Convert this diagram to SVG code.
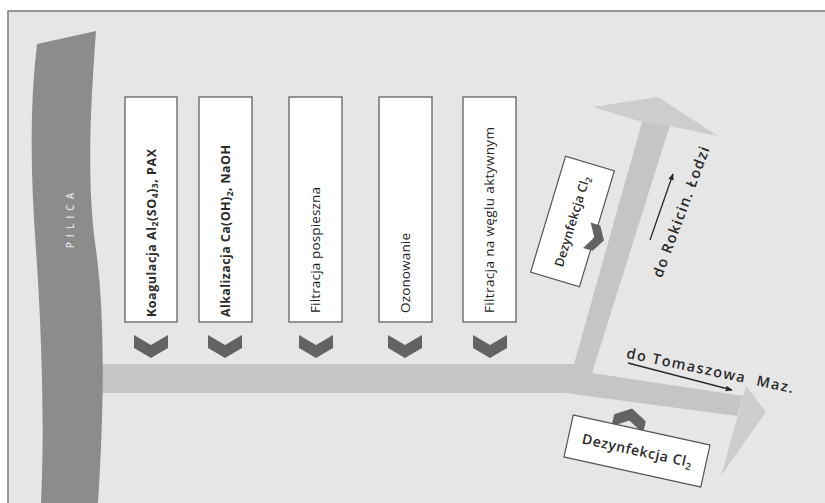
<svg xmlns="http://www.w3.org/2000/svg" width="825" height="503" viewBox="0 0 825 503">
<defs>
<style>
.box{fill:#ffffff;stroke:#555555;stroke-width:1.2}
.chev{fill:#636363}
.pipe{fill:#c5c5c5}
.head{fill:#cdcdcd}
.bt{font-family:"Open Sans","Liberation Sans",sans-serif;font-size:12.5px;font-weight:700;fill:#2a2a2a}
.rt{font-family:"Open Sans","Liberation Sans",sans-serif;font-size:13.5px;font-weight:500;fill:#222222}
.dz{font-family:"Open Sans","Liberation Sans",sans-serif;font-weight:600;fill:#2a2a2a;text-anchor:middle}
.lbl{font-family:"Open Sans","Liberation Sans",sans-serif;font-size:14.5px;font-weight:600;fill:#2a2a2a;text-anchor:middle}
.thin{stroke:#2a2a2a;stroke-width:1.3;fill:none}
</style>
<marker id="ah" viewBox="0 0 10 10" refX="9" refY="5" markerWidth="7" markerHeight="7" orient="auto" markerUnits="userSpaceOnUse">
<path d="M0,1 L10,5 L0,9 Z" fill="#2a2a2a"/>
</marker>
<path id="chevD" d="M-17,-12 L0,-2 L17,-12 L17,1 L0,11 L-17,1 Z"/>
</defs>

<rect x="8" y="11" width="817" height="492" fill="#e6e6e6"/>
<path d="M8,503 L8,11 L825,11" fill="none" stroke="#7a7a7a" stroke-width="1.5"/>

<g id="connectors">
<polygon class="pipe" points="95,364 574,364 642,122 670,125 592,373 743,396 737,416 565,393 95,393"/>
<polygon class="head" points="593,107 658,97 718,136 669,126 642,122"/>
<polygon class="head" points="746,386 766,412 721,476 737.7,416 743.2,396"/>
<use href="#chevD" class="chev" x="151" y="347"/>
<use href="#chevD" class="chev" x="225" y="347"/>
<use href="#chevD" class="chev" x="316" y="347"/>
<use href="#chevD" class="chev" x="405" y="347"/>
<use href="#chevD" class="chev" x="490" y="347"/>
<line class="thin" x1="650" y1="240" x2="673" y2="174" marker-end="url(#ah)"/>
<line class="thin" x1="628" y1="363" x2="732" y2="390" marker-end="url(#ah)"/>
</g>

<g id="river">
<path d="M37,44 L96,31 C91,100 86,180 96,250 C103,300 106,380 98,503 L41,503 C45,420 41,320 36,250 C31,180 29,110 37,44 Z" fill="#8c8c8c"/>
<text transform="translate(70,218) rotate(-90)" y="3.5" text-anchor="middle" font-family="'Open Sans','Liberation Sans',sans-serif" font-size="10" font-weight="600" letter-spacing="5" fill="#e2e2e2">PILICA</text>
</g>

<g id="box1">
<rect class="box" x="125" y="97" width="52" height="225"/>
<text class="bt" transform="translate(151,317) rotate(-90)" y="4.5" textLength="168" lengthAdjust="spacing">Koagulacja Al<tspan dy="2.5" font-size="8.5">2</tspan><tspan dy="-2.5">(SO</tspan><tspan dy="2.5" font-size="8.5">4</tspan><tspan dy="-2.5">)</tspan><tspan dy="2.5" font-size="8.5">3</tspan><tspan dy="-2.5">, PAX</tspan></text>
</g>
<g id="box2">
<rect class="box" x="199" y="97" width="53" height="225"/>
<text class="bt" transform="translate(225.5,317) rotate(-90)" y="4.5" textLength="172" lengthAdjust="spacing">Alkalizacja Ca(OH)<tspan dy="2.5" font-size="8.5">2</tspan><tspan dy="-2.5">, NaOH</tspan></text>
</g>
<g id="box3">
<rect class="box" x="289" y="97" width="53" height="225"/>
<text class="rt" transform="translate(315.5,313) rotate(-90)" y="4.5" textLength="126" lengthAdjust="spacing">Filtracja pospieszna</text>
</g>
<g id="box4">
<rect class="box" x="379" y="97" width="53" height="225"/>
<text class="rt" transform="translate(405.5,313) rotate(-90)" y="4.5" textLength="80" lengthAdjust="spacing">Ozonowanie</text>
</g>
<g id="box5">
<rect class="box" x="463" y="97" width="53" height="225"/>
<text class="rt" transform="translate(489.5,313) rotate(-90)" y="4.5" textLength="186" lengthAdjust="spacing">Filtracja na węglu aktywnym</text>
</g>

<g id="dez1" transform="translate(572.5,221.5) rotate(-73.2)">
<rect class="box" x="-60.5" y="-25.5" width="121" height="51"/>
<text class="dz" font-size="12.5" y="4" textLength="94" lengthAdjust="spacing">Dezynfekcja Cl<tspan dy="2.5" font-size="8.5">2</tspan></text>
<use href="#chevD" class="chev" transform="translate(-9,27) scale(0.78)"/>
</g>

<g id="dez2" transform="translate(637,451) rotate(12.4)">
<use href="#chevD" class="chev" transform="translate(-14,-30) scale(0.95,-0.95)"/>
<rect class="box" x="-70" y="-21.5" width="140" height="43"/>
<text class="dz" font-size="14" y="4.5" textLength="112" lengthAdjust="spacing">Dezynfekcja Cl<tspan dy="3" font-size="9.5">2</tspan></text>
</g>

<g id="label-rokicin">
<text class="lbl" transform="translate(681,212) rotate(-69.6)" y="5" textLength="138" lengthAdjust="spacing">do Rokicin. Łodzi</text>
</g>
<g id="label-tomaszow">
<text class="lbl" font-size="15" transform="translate(710,370.5) rotate(12)" y="5" textLength="170" lengthAdjust="spacing" xml:space="preserve">do Tomaszowa  Maz.</text>
</g>
</svg>
